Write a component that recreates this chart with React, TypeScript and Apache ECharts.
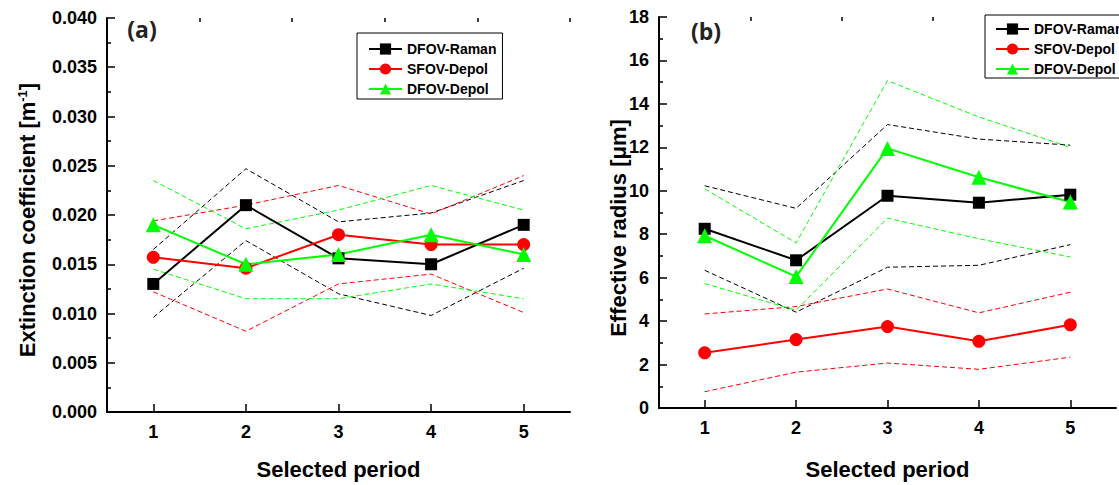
import React, { useEffect, useRef } from "react";
import * as echarts from "echarts";

const periods = [1, 2, 3, 4, 5];
const legendNames = ["DFOV-Raman", "SFOV-Depol", "DFOV-Depol"];

// Panel (a): extinction coefficient [m^-1]
const ramanA = [0.013, 0.021, 0.0156, 0.015, 0.019];
const sfovA = [0.0157, 0.0146, 0.018, 0.017, 0.017];
const dfovA = [0.019, 0.015, 0.016, 0.018, 0.016];
const ramanAUp = [0.0165, 0.0247, 0.0193, 0.0202, 0.0235];
const ramanALo = [0.0096, 0.0174, 0.012, 0.0098, 0.0146];
const sfovAUp = [0.0194, 0.021, 0.023, 0.0201, 0.024];
const sfovALo = [0.0122, 0.0082, 0.013, 0.014, 0.0101];
const dfovAUp = [0.0235, 0.0186, 0.0205, 0.023, 0.0205];
const dfovALo = [0.0145, 0.0115, 0.0115, 0.013, 0.0115];

// Panel (b): effective radius [um]
const ramanB = [8.25, 6.8, 9.77, 9.45, 9.82];
const sfovB = [2.54, 3.15, 3.75, 3.07, 3.83];
const dfovB = [7.93, 6.05, 11.95, 10.62, 9.48];
const ramanBUp = [10.23, 9.19, 13.05, 12.38, 12.1];
const ramanBLo = [6.34, 4.41, 6.48, 6.57, 7.52];
const sfovBUp = [4.33, 4.67, 5.48, 4.38, 5.33];
const sfovBLo = [0.75, 1.65, 2.07, 1.78, 2.34];
const dfovBUp = [10.09, 7.6, 15.07, 13.4, 12.0];
const dfovBLo = [5.73, 4.5, 8.74, 7.79, 6.95];

const majorX = [1, 2, 3, 4, 5];
const minorX = [1.5, 2.5, 3.5, 4.5, 5.5];

const FONT = "'Liberation Sans', Arial, Helvetica, sans-serif";
const BLACK = "#000000";
const RED = "#ff0000";
const GREEN = "#00ff00";

function pairs(ys: number[]) {
  return periods.map((p, i) => [p, ys[i]]);
}

function mainSeries(name: string, ys: number[], color: string, symbol: string, size: number, idx: number) {
  return {
    type: "line",
    name,
    data: pairs(ys),
    xAxisIndex: idx,
    yAxisIndex: idx,
    symbol,
    symbolSize: size,
    showSymbol: true,
    lineStyle: { color, width: 2 },
    itemStyle: { color },
    z: 5,
  };
}

function dashSeries(name: string, ys: number[], color: string, idx: number) {
  return {
    type: "line",
    name,
    data: pairs(ys),
    xAxisIndex: idx,
    yAxisIndex: idx,
    symbol: "none",
    lineStyle: { color, width: 1, type: [5, 3] },
    z: 3,
  };
}

function mainX(gridIndex: number, labelMargin: number, nameGap: number) {
  return {
    type: "value",
    gridIndex,
    min: 0.5,
    max: 5.5,
    interval: 0.5,
    axisLine: { show: true, onZero: false, lineStyle: { color: BLACK, width: 2 } },
    axisTick: { show: true, inside: true, length: 8, customValues: majorX, lineStyle: { color: BLACK, width: 1.5 } },
    axisLabel: {
      customValues: majorX,
      color: BLACK,
      fontSize: 18,
      fontWeight: "bold",
      fontFamily: FONT,
      margin: labelMargin,
    },
    splitLine: { show: false },
    name: "Selected period",
    nameLocation: "middle",
    nameGap,
    nameTextStyle: { color: BLACK, fontSize: 22, fontWeight: "bold", fontFamily: FONT },
  };
}

function minorXAxis(gridIndex: number) {
  return {
    type: "value",
    gridIndex,
    min: 0.5,
    max: 5.5,
    interval: 0.5,
    axisLine: { show: false, onZero: false },
    axisTick: { show: true, inside: true, length: 4, customValues: minorX, lineStyle: { color: BLACK, width: 1.5 } },
    axisLabel: { show: false },
    splitLine: { show: false },
  };
}

function yAxis(gridIndex: number, max: number, interval: number, digits: number) {
  return {
    type: "value",
    gridIndex,
    min: 0,
    max,
    interval,
    axisLine: { show: true, onZero: false, lineStyle: { color: BLACK, width: 2 } },
    axisTick: { show: true, inside: true, length: 8, lineStyle: { color: BLACK, width: 1.5 } },
    minorTick: { show: true, splitNumber: 2, length: 4, lineStyle: { color: BLACK, width: 1.5 } },
    axisLabel: {
      color: BLACK,
      fontSize: 18,
      fontWeight: "bold",
      fontFamily: FONT,
      margin: 10,
      formatter: (v: number) => v.toFixed(digits),
    },
    splitLine: { show: false },
    minorSplitLine: { show: false },
  };
}

function legend(left: number, top: number, padding: number[], itemGap: number) {
  return {
    data: legendNames,
    orient: "vertical",
    left,
    top,
    padding,
    itemGap,
    itemWidth: 33,
    itemHeight: 14,
    borderColor: "#000",
    borderWidth: 1,
    borderRadius: 0,
    backgroundColor: "#fff",
    selectedMode: false,
    textStyle: { color: BLACK, fontSize: 14, fontWeight: "bold", fontFamily: FONT },
  };
}

export default function App() {
  const ref = useRef<HTMLDivElement>(null);
  useEffect(() => {
    document.body.style.margin = "0";
    const chart = echarts.init(ref.current!, null, { renderer: "svg" });
    const option = {
      animation: false,
      backgroundColor: "#ffffff",
      grid: [
        { left: 107, top: 18, width: 463, height: 394 },
        { left: 659, top: 17, width: 457, height: 391 },
      ],
      xAxis: [mainX(0, 11, 46), mainX(1, 11, 50), minorXAxis(0), minorXAxis(1)],
      yAxis: [yAxis(0, 0.04, 0.005, 3), yAxis(1, 18, 2, 0)],
      legend: [legend(357, 33, [9, 6, 3, 11], 6), legend(985, 15, [7, 6, 2, 10], 6)],
      graphic: [
        {
          type: "text",
          x: 142,
          y: 29,
          style: { text: "(a)", fontSize: 23, fontWeight: "bold", fontFamily: "'Open Sans', sans-serif", fill: "#222", align: "center", verticalAlign: "middle" },
        },
        {
          type: "text",
          x: 706,
          y: 31,
          style: { text: "(b)", fontSize: 23, fontWeight: "bold", fontFamily: "'Open Sans', sans-serif", fill: "#222", align: "center", verticalAlign: "middle" },
        },
        {
          type: "text",
          x: 27,
          y: 220,
          rotation: Math.PI / 2,
          style: {
            text: "Extinction coefficient [m{sup|-1}]",
            fontSize: 22,
            fontWeight: "bold",
            fontFamily: FONT,
            fill: BLACK,
            align: "center",
            verticalAlign: "middle",
            rich: { sup: { fontSize: 13, fontWeight: "bold", fontFamily: FONT, fill: BLACK, verticalAlign: "top", padding: [0, 0, 10, 0] } },
          },
        },
        {
          type: "text",
          x: 618,
          y: 228,
          rotation: Math.PI / 2,
          style: {
            text: "Effective radius [\u03bcm]",
            fontSize: 22,
            fontWeight: "bold",
            fontFamily: FONT,
            fill: BLACK,
            align: "center",
            verticalAlign: "middle",
          },
        },
      ],
      series: [
        dashSeries("DFOV-Raman upper (a)", ramanAUp, BLACK, 0),
        dashSeries("DFOV-Raman lower (a)", ramanALo, BLACK, 0),
        dashSeries("SFOV-Depol upper (a)", sfovAUp, RED, 0),
        dashSeries("SFOV-Depol lower (a)", sfovALo, RED, 0),
        dashSeries("DFOV-Depol upper (a)", dfovAUp, GREEN, 0),
        dashSeries("DFOV-Depol lower (a)", dfovALo, GREEN, 0),
        mainSeries("DFOV-Raman", ramanA, BLACK, "rect", 12, 0),
        mainSeries("SFOV-Depol", sfovA, RED, "circle", 13, 0),
        mainSeries("DFOV-Depol", dfovA, GREEN, "triangle", 15, 0),
        dashSeries("DFOV-Raman upper (b)", ramanBUp, BLACK, 1),
        dashSeries("DFOV-Raman lower (b)", ramanBLo, BLACK, 1),
        dashSeries("SFOV-Depol upper (b)", sfovBUp, RED, 1),
        dashSeries("SFOV-Depol lower (b)", sfovBLo, RED, 1),
        dashSeries("DFOV-Depol upper (b)", dfovBUp, GREEN, 1),
        dashSeries("DFOV-Depol lower (b)", dfovBLo, GREEN, 1),
        mainSeries("DFOV-Raman", ramanB, BLACK, "rect", 12, 1),
        mainSeries("SFOV-Depol", sfovB, RED, "circle", 13, 1),
        mainSeries("DFOV-Depol", dfovB, GREEN, "triangle", 15, 1),
      ],
    };
    chart.setOption(option as any);
    return () => chart.dispose();
  }, []);
  return <div ref={ref} style={{ width: 1119, height: 485 }} />;
}
